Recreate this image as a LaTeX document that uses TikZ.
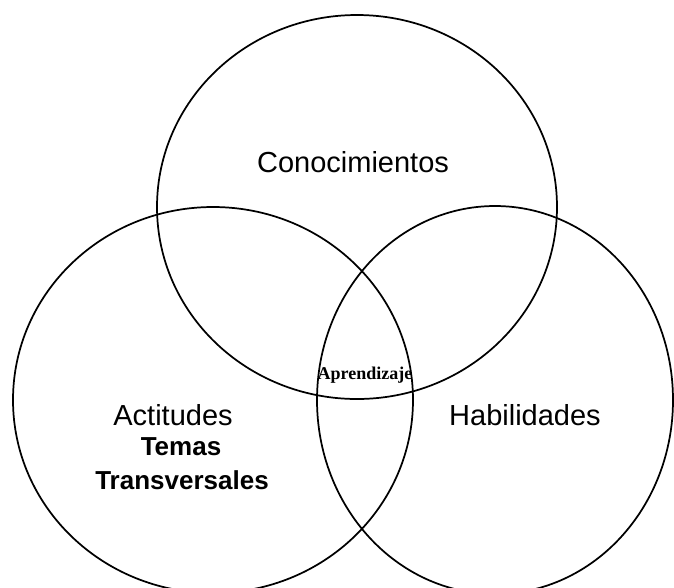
\documentclass[tikz,border=0pt]{standalone}
\usepackage{fontspec}
\setmainfont{Liberation Sans}
\newfontfamily\serifbold{Liberation Serif}
\usetikzlibrary{shapes}

\tikzset{
  ring/.style = {draw, ellipse, inner sep = 0pt, line width = 1.3pt},
  big/.style = {anchor = base, font = \fontsize{21.75pt}{26pt}\selectfont},
  bigbold/.style = {anchor = base, font = \fontsize{19.5pt}{23pt}\selectfont\bfseries},
  small/.style = {anchor = base, font = \fontsize{13.5pt}{16pt}\selectfont\serifbold\bfseries}
}

\begin{document}
\begin{tikzpicture}[x = 0.75pt, y = -0.75pt]
            \useasboundingbox (0,0) rectangle (674,587);
            \clip (0,0) rectangle (674,587);
            \node[ring, minimum width = 300pt, minimum height = 288pt] (circC) at (357,207) {};
            \node[ring, minimum width = 300pt, minimum height = 289.5pt] (circA) at (213,400) {};
            \node[ring, minimum width = 267pt, minimum height = 291pt] (circH) at (495,400) {};

            \node[big] (conocimientos) at (353,172) {Conocimientos};
            \node[big] (actitudes) at (173,425) {Actitudes};
            \node[bigbold] (temas) at (181,455) {Temas};
            \node[bigbold] (transversales) at (182,489) {Transversales};
            \node[big] (habilidades) at (525,425) {Habilidades};
            \node[small] (aprendizaje) at (365,379) {Aprendizaje};
          \end{tikzpicture}
\end{document}
